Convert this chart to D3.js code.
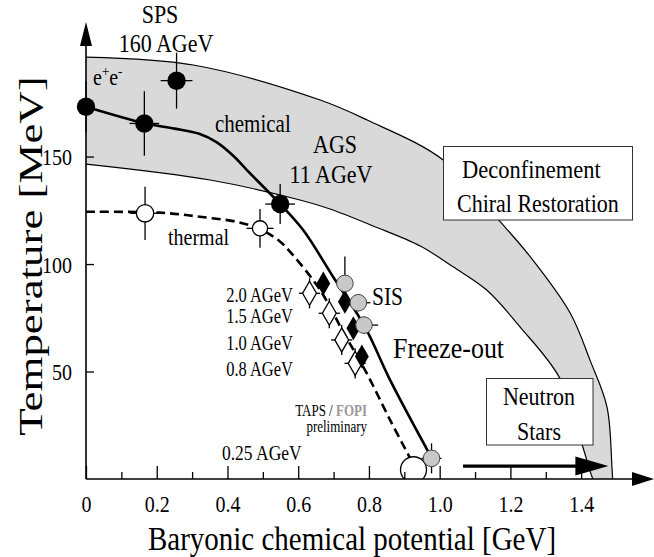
<!DOCTYPE html>
<html>
<head>
<meta charset="utf-8">
<script src="https://cdn.jsdelivr.net/npm/d3@7"></script>
<style>
body { margin: 0; background: #fff; }
svg { display: block; font-family: "Liberation Serif", "Times New Roman", serif; }
</style>
</head>
<body>
<div id="chart"></div>
<script>
var W = 654, H = 557;

// curves, [mu_B (GeV), T (MeV)]
var chemicalLine = [[0,173.2],[0.164,165.6],[0.25,163.0],[0.32,160.6],[0.37,156.6],[0.42,149.8],[0.455,143.7],[0.549,127.9],[0.614,115.8],[0.699,94.0],[0.789,70.7],[0.86,46.0],[0.978,9.6]];
var thermalLine = [[0,124.3],[0.209,123.9],[0.322,122.0],[0.43,119.5],[0.492,116.3],[0.549,110.4],[0.585,104.2],[0.662,87.9],[0.732,67.0],[0.789,50.7],[0.86,27.4],[0.916,9.8]];
var bandUpper = [[0,196.3],[0.303,192.6],[0.662,176.3],[0.795,167.0],[1.010,148.4],[1.171,119.7],[1.256,103.4],[1.369,77.2],[1.425,55.3],[1.473,33.6],[1.487,5.7],[1.489,0]];
var bandLower = [[0,146.5],[0.351,139.1],[0.605,129.8],[0.69,125.6],[0.812,117.7],[0.945,108.4],[1.038,98.7],[1.133,87.9],[1.227,70.8],[1.34,46.8],[1.403,15.8],[1.431,0.9],[1.434,0]];

// points with errors
var filledMu = [0, 0.165, 0.256, 0.549];
var filledT = [173.2, 165.4, 185.3, 127.9];
var filledErrMu = [0, 0.042, 0.045, 0.042];
var filledErrT = [12, 15, 13, 9.3];

var openMu = [0.167, 0.492];
var openT = [123.6, 116.6];
var openErrMu = [0.042, 0.038];
var openErrT = [12.4, 9];

var grayMu = [0.732, 0.770, 0.786, 0.977];
var grayT = [91.0, 82.0, 71.6, 9.6];
var grayErrMu = [0.02, 0.034, 0.04, 0.028];
var grayErrT = [12.5, 4, 4, 7];

var blackDiaMu = [0.671, 0.732, 0.756, 0.780];
var blackDiaT = [91.0, 82.5, 70.1, 57.0];

var openDiaMu = [0.632, 0.688, 0.723, 0.761];
var openDiaT = [86.4, 77.1, 64.7, 53.8];
var openDiaErrMu = 0.03, openDiaErrT = 7;

var halfCircle = [0.926, 4.3];
var neutronArrow = [1.066, 1.477, 6];

var xMajor = [0, 0.2, 0.4, 0.6, 0.8, 1.0, 1.2, 1.4];
var xMinor = [0.1, 0.3, 0.5, 0.7, 0.9, 1.1, 1.3];
var yMajor = [50, 100, 150];
var energyLabels = ["2.0 AGeV", "1.5 AGeV", "1.0 AGeV", "0.8 AGeV"];

var x = d3.scaleLinear().domain([0, 1.606]).range([86, 654]);
var y = d3.scaleLinear().domain([0, 212.6]).range([479, 22]);

var svg = d3.select("#chart").append("svg")
    .attr("width", W)
    .attr("height", H);

var line = d3.line()
    .x(function(d) { return x(d[0]); })
    .y(function(d) { return y(d[1]); })
    .curve(d3.curveCatmullRom.alpha(0.5));

// gray band
var bandPath = line(bandUpper) + "L" + line(bandLower.slice().reverse()).slice(1) + "Z";
svg.append("path").attr("d", bandPath).attr("fill", "#d9d9d9");
svg.append("path").attr("d", line(bandUpper)).attr("fill", "none").attr("stroke", "#000").attr("stroke-width", 1.2);
svg.append("path").attr("d", line(bandLower)).attr("fill", "none").attr("stroke", "#000").attr("stroke-width", 1.2);

// boxes
svg.append("rect").attr("x", 443.5).attr("y", 146.5).attr("width", 189).attr("height", 73.5)
    .attr("fill", "#fff").attr("stroke", "#333").attr("stroke-width", 1);
svg.append("rect").attr("x", 486.5).attr("y", 378.5).attr("width", 106.5).attr("height", 66.5)
    .attr("fill", "#fff").attr("stroke", "#333").attr("stroke-width", 1);

// freeze-out curves
svg.append("path").attr("d", line(chemicalLine)).attr("fill", "none").attr("stroke", "#000").attr("stroke-width", 2.6);
svg.append("path").attr("d", line(thermalLine)).attr("fill", "none").attr("stroke", "#000").attr("stroke-width", 2.6)
    .attr("stroke-dasharray", "9,5");

function errBars(mu, T, dMu, dT) {
  var g = svg.append("g").attr("stroke", "#000").attr("stroke-width", 1.3);
  mu.forEach(function(m, i) {
    var em = Array.isArray(dMu) ? dMu[i] : dMu;
    var et = Array.isArray(dT) ? dT[i] : dT;
    if (et > 0) g.append("line").attr("x1", x(m)).attr("x2", x(m)).attr("y1", y(T[i] - et)).attr("y2", y(T[i] + et));
    if (em > 0) g.append("line").attr("x1", x(m - em)).attr("x2", x(m + em)).attr("y1", y(T[i])).attr("y2", y(T[i]));
  });
}

// bottom open circle, cut by the axis
svg.append("clipPath").attr("id", "above").append("rect").attr("x", 0).attr("y", 0).attr("width", W).attr("height", y(0));
svg.append("circle").attr("clip-path", "url(#above)")
    .attr("cx", x(halfCircle[0])).attr("cy", y(halfCircle[1])).attr("r", 13)
    .attr("fill", "#fff").attr("stroke", "#000").attr("stroke-width", 1.3);

// open diamonds
errBars(openDiaMu, openDiaT, openDiaErrMu, openDiaErrT);
var diamond = d3.symbol(d3.symbolDiamond, 166);
svg.append("g").selectAll("path").data(openDiaMu).enter().append("path")
    .attr("d", diamond)
    .attr("transform", function(d, i) { return "translate(" + x(d) + "," + y(openDiaT[i]) + ")"; })
    .attr("fill", "#fff").attr("stroke", "#000").attr("stroke-width", 1.3);

// black diamonds
svg.append("g").selectAll("path").data(blackDiaMu).enter().append("path")
    .attr("d", diamond)
    .attr("transform", function(d, i) { return "translate(" + x(d) + "," + y(blackDiaT[i]) + ")"; })
    .attr("fill", "#000");

// gray circles
errBars(grayMu, grayT, grayErrMu, grayErrT);
svg.append("g").selectAll("circle").data(grayMu).enter().append("circle")
    .attr("cx", function(d) { return x(d); })
    .attr("cy", function(d, i) { return y(grayT[i]); })
    .attr("r", 8.3)
    .attr("fill", "#c8c8c8").attr("stroke", "#444").attr("stroke-width", 1);

// filled + open circles
errBars(filledMu, filledT, filledErrMu, filledErrT);
svg.append("g").selectAll("circle").data(filledMu).enter().append("circle")
    .attr("cx", function(d) { return x(d); })
    .attr("cy", function(d, i) { return y(filledT[i]); })
    .attr("r", 9.2).attr("fill", "#000");

errBars(openMu, openT, openErrMu, openErrT);
svg.append("g").selectAll("circle").data(openMu).enter().append("circle")
    .attr("cx", function(d) { return x(d); })
    .attr("cy", function(d, i) { return y(openT[i]); })
    .attr("r", function(d, i) { return i == 0 ? 8.7 : 7.6; })
    .attr("fill", "#fff").attr("stroke", "#000").attr("stroke-width", 1.3);

// neutron star arrow
svg.append("line")
    .attr("x1", x(neutronArrow[0])).attr("x2", x(neutronArrow[1]) - 25)
    .attr("y1", y(neutronArrow[2])).attr("y2", y(neutronArrow[2]))
    .attr("stroke", "#000").attr("stroke-width", 3.3);
svg.append("path")
    .attr("d", "M" + x(neutronArrow[1]) + "," + y(neutronArrow[2]) +
               "L" + (x(neutronArrow[1]) - 33) + "," + (y(neutronArrow[2]) - 9.5) +
               "L" + (x(neutronArrow[1]) - 33) + "," + (y(neutronArrow[2]) + 9.5) + "Z")
    .attr("fill", "#000");

// axes
var xAxis = d3.axisBottom(x).tickValues(xMajor).tickSize(-13)
    .tickFormat(function(d) { return d === 0 ? "0" : d.toFixed(1); });
var xAxisMinor = d3.axisBottom(x).tickValues(xMinor).tickSize(-7).tickFormat("");
var yAxis = d3.axisLeft(y).tickValues(yMajor).tickSize(-8);

var gx = svg.append("g").attr("transform", "translate(0," + y(0) + ")").call(xAxis);
var gx2 = svg.append("g").attr("transform", "translate(0," + y(0) + ")").call(xAxisMinor);
var gy = svg.append("g").attr("transform", "translate(" + x(0) + ",0)").call(yAxis);

[gx, gx2, gy].forEach(function(g) {
  g.attr("font-family", null).attr("font-size", 20);
  g.select(".domain").remove();
  g.selectAll("line").attr("stroke", "#000").attr("stroke-width", 1.3);
  g.selectAll("text").attr("fill", "#000");
});
gx.selectAll("text").attr("y", 0).attr("dy", null)
    .attr("transform", "translate(0,32.5) scale(1,1.2)");
gy.selectAll("text").attr("x", 0).attr("dy", null)
    .attr("transform", "translate(-14,8) scale(1,1.2)");

svg.append("line").attr("x1", x(0)).attr("x2", 636).attr("y1", y(0)).attr("y2", y(0))
    .attr("stroke", "#000").attr("stroke-width", 1.6);
svg.append("path").attr("d", "M654," + y(0) + "L632," + (y(0) - 7) + "L632," + (y(0) + 7) + "Z").attr("fill", "#000");
svg.append("line").attr("x1", x(0)).attr("x2", x(0)).attr("y1", y(0)).attr("y2", 40)
    .attr("stroke", "#000").attr("stroke-width", 1.6);
svg.append("path").attr("d", "M" + x(0) + ",22L" + (x(0) - 6) + ",46L" + (x(0) + 6) + ",46Z").attr("fill", "#000");

// text helpers
function label(str, px, py, size, anchor, stretch) {
  return svg.append("text")
    .attr("transform", "translate(" + px + "," + py + ") scale(1," + (stretch || 1.15) + ")")
    .attr("font-size", size)
    .attr("text-anchor", anchor || "start")
    .text(str);
}

label("SPS", 160, 23, 22, "middle");
label("160 AGeV", 166, 51.5, 22, "middle");

var ee = svg.append("text").attr("transform", "translate(93,85) scale(1,1.15)").attr("font-size", 20);
ee.append("tspan").text("e");
ee.append("tspan").attr("font-size", 13).attr("dy", -8).text("+");
ee.append("tspan").attr("dy", 8).text("e");
ee.append("tspan").attr("font-size", 13).attr("dy", -8).text("-");

label("chemical", 215, 131.5, 21);
label("AGS", 335, 153, 22, "middle");
label("11 AGeV", 331, 183, 22, "middle");
label("thermal", 168, 245, 20);
label("Deconfinement", 462, 178, 22.5);
label("Chiral Restoration", 457, 211.5, 22);
label("Neutron", 539, 405, 22, "middle");
label("Stars", 539, 440, 22, "middle");
label("SIS", 372, 305, 21.5);
label("Freeze-out", 393, 358, 26);

var energyY = [302, 323, 350, 376];
energyLabels.forEach(function(s, i) { label(s, 293, energyY[i], 16.5, "end", 1.22); });
label("0.25 AGeV", 222, 459.5, 17.5, "start", 1.25);

var taps = label("TAPS / ", 367, 415.5, 13, "end", 1.25);
taps.append("tspan").attr("fill", "#999").attr("font-weight", "bold").text("FOPI");
label("preliminary", 367, 432, 13, "end", 1.25);

// axis titles
label("Baryonic chemical potential [GeV]", 352, 550, 29, "middle", 1.18);
svg.append("text")
    .attr("transform", "translate(42,256) scale(1,1.32) rotate(-90)")
    .attr("font-size", 34)
    .attr("text-anchor", "middle")
    .text("Temperature [MeV]");
</script>
</body>
</html>
